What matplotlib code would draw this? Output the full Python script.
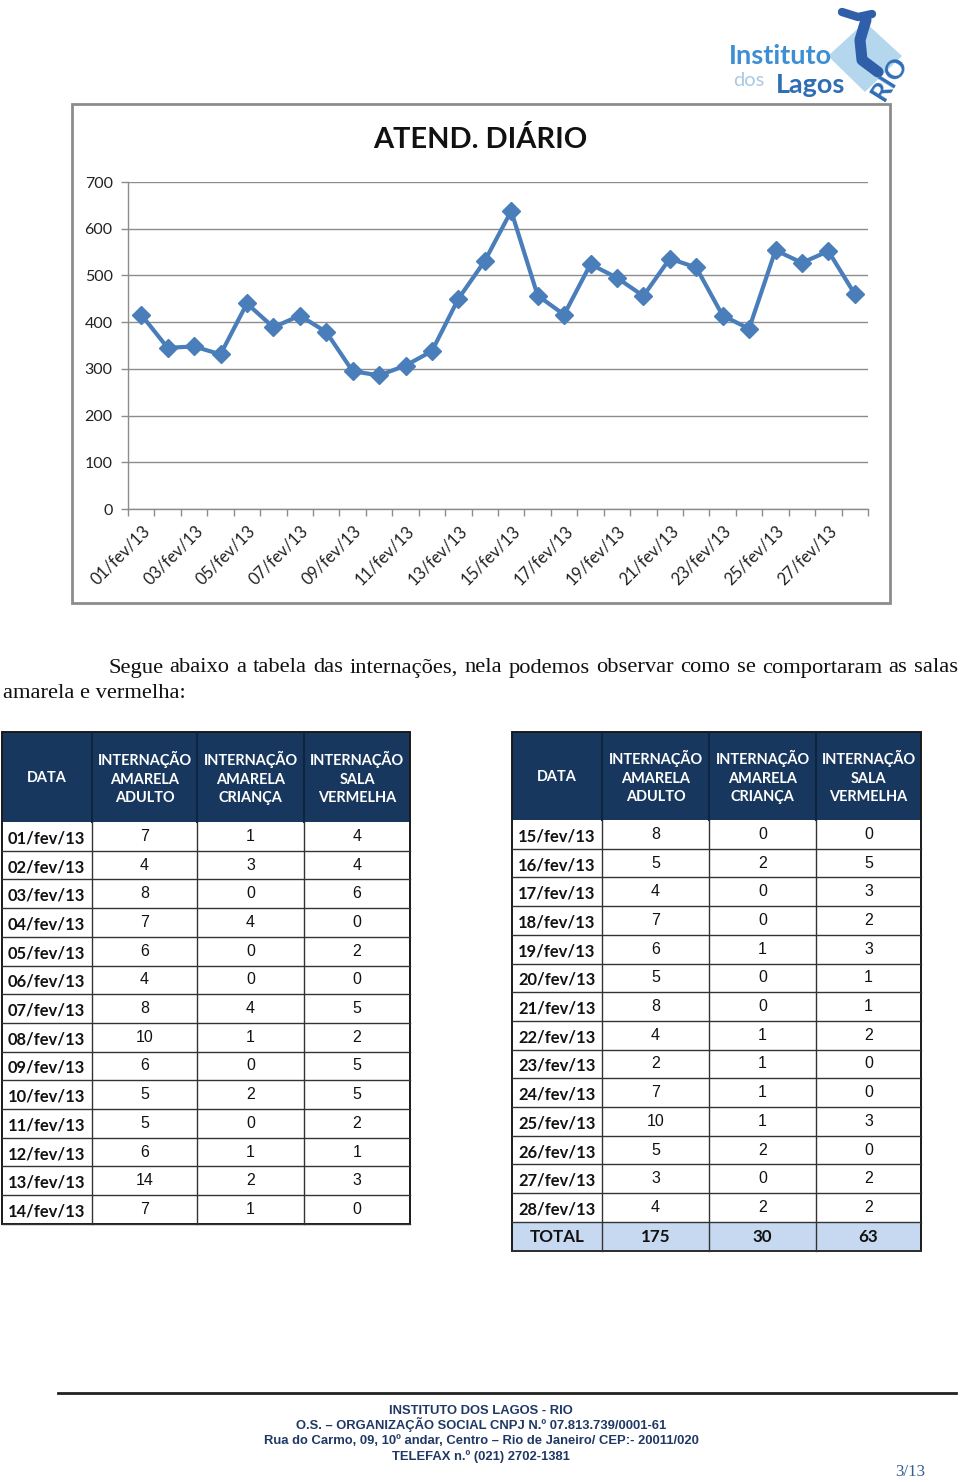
import matplotlib
matplotlib.use("Agg")
import matplotlib.pyplot as plt
from matplotlib.patches import Rectangle, Polygon
from matplotlib import font_manager
from matplotlib.ticker import FixedLocator, NullFormatter
from matplotlib.transforms import ScaledTranslation

# ---------------- data ----------------
dias = [f"{d:02d}/fev/13" for d in range(1, 29)]
atendimentos = [416, 345, 348, 331, 440, 389, 414, 379, 295, 286, 307, 338, 450, 531,
                638, 457, 416, 524, 495, 456, 536, 517, 414, 386, 554, 527, 552, 460]
y_ticks = [0, 100, 200, 300, 400, 500, 600, 700]

int_amarela_adulto = [7, 4, 8, 7, 6, 4, 8, 10, 6, 5, 5, 6, 14, 7,
                      8, 5, 4, 7, 6, 5, 8, 4, 2, 7, 10, 5, 3, 4]
int_amarela_crianca = [1, 3, 0, 4, 0, 0, 4, 1, 0, 2, 0, 1, 2, 1,
                       0, 2, 0, 0, 1, 0, 0, 1, 1, 1, 1, 2, 0, 2]
int_sala_vermelha = [4, 4, 6, 0, 2, 0, 5, 2, 5, 5, 2, 1, 3, 0,
                     0, 5, 3, 2, 3, 1, 1, 2, 0, 0, 3, 0, 2, 2]
totais = [175, 30, 63]
cabecalhos = ["DATA", "INTERNAÇÃO\nAMARELA\nADULTO", "INTERNAÇÃO\nAMARELA\nCRIANÇA",
              "INTERNAÇÃO\nSALA\nVERMELHA"]

# ---------------- fonts ----------------
def pick(*names):
    for n in names:
        try:
            font_manager.findfont(font_manager.FontProperties(family=n), fallback_to_default=False)
            return n
        except Exception:
            continue
    return "DejaVu Sans"

CAL = pick("Lato", "Open Sans")
ARIAL = pick("Liberation Sans", "DejaVu Sans")
NARROW = pick("Liberation Sans Narrow", "Liberation Sans")
TIMES = pick("Liberation Serif", "DejaVu Serif")

W, H = 960, 1482
fig = plt.figure(figsize=(W / 100, H / 100), dpi=100)
fig.patch.set_facecolor("white")
pg = fig.add_axes([0, 0, 1, 1])
pg.set_xlim(0, W)
pg.set_ylim(H, 0)
pg.axis("off")

def px(v):
    return v * 0.72

# ---------------- logo ----------------
pg.add_patch(Polygon([(865, 22), (902, 56), (865, 92), (828, 56)], closed=True,
                     facecolor="#A8D0EC", edgecolor="none", alpha=0.85, zorder=1))
pg.plot([842, 858, 872], [12, 17, 14], color="#2F5FA8", lw=6, solid_capstyle="round", zorder=2)
pg.plot([866, 860, 862, 878], [20, 40, 60, 72], color="#2F5FA8", lw=8,
        solid_capstyle="round", zorder=2)
pg.text(729, 56, "Instituto", fontsize=px(27), color="#3D8FD2", family=CAL,
        fontweight="bold", va="center", ha="left", zorder=3)
pg.text(733, 81, "dos", fontsize=px(20), color="#A9C9E2", family=CAL,
        va="center", ha="left", zorder=3)
pg.text(776, 85, "Lagos", fontsize=px(27), color="#2F6DB5", family=CAL,
        fontweight="bold", va="center", ha="left", zorder=3)
pg.text(890, 78, "RIO", fontsize=px(27), color="#2F6DB5", family=CAL,
        fontweight="bold", va="center", ha="center", rotation=58, zorder=3)

# ---------------- chart frame & title ----------------
pg.add_patch(Rectangle((72, 104), 818, 499, facecolor="white", edgecolor="#8C8C8C", lw=2))
pg.text(480, 139, "ATEND. DIÁRIO", fontsize=px(29), family=CAL, fontweight="bold",
        ha="center", va="center", color="#111111")

ax = fig.add_axes([128 / W, 1 - 509 / H, 740 / W, 327 / H])
ax.set_facecolor("none")
x = list(range(1, len(atendimentos) + 1))
ax.plot(x, atendimentos, color="#4A7EBB", lw=3, marker="D", markersize=9.5,
        markerfacecolor="#4A7EBB", markeredgecolor="#4A7EBB", zorder=3)
ax.set_xlim(0.5, len(atendimentos) + 0.5)
ax.set_ylim(0, 700)
ax.set_yticks(y_ticks)
ax.set_yticklabels([str(v) for v in y_ticks], family=CAL, fontsize=px(16), color="#222222")
ax.yaxis.grid(True, color="#8C8C8C", lw=1)
ax.set_axisbelow(True)
ax.tick_params(axis="y", length=5, width=1, color="#8C8C8C", pad=6)
ax.set_xticks(x[::2])
ax.set_xticklabels(dias[::2], rotation=45, ha="right", va="center",
                   rotation_mode="anchor", family=CAL, fontsize=px(16.5), color="#222222")
ax.tick_params(axis="x", which="major", length=0, pad=14)
shift = ScaledTranslation(6 / 100, 0, fig.dpi_scale_trans)
for lab in ax.get_xticklabels():
    lab.set_transform(lab.get_transform() + shift)
ax.xaxis.set_minor_locator(FixedLocator([i + 0.5 for i in range(0, len(atendimentos) + 1)]))
ax.xaxis.set_minor_formatter(NullFormatter())
ax.tick_params(axis="x", which="minor", length=5, width=1, color="#8C8C8C")
for s in ["top", "right"]:
    ax.spines[s].set_visible(False)
for s in ["left", "bottom"]:
    ax.spines[s].set_color("#8C8C8C")
    ax.spines[s].set_linewidth(1)

# ---------------- paragraph (justified first line) ----------------
renderer = fig.canvas.get_renderer()
line1 = "Segue abaixo a tabela das internações, nela podemos observar como se comportaram as salas".split()
fs_par = px(22.5)
texts = [pg.text(0, 668, w, fontsize=fs_par, family=TIMES, va="center", ha="left",
                 color="#111111") for w in line1]
widths = [t.get_window_extent(renderer).width for t in texts]
x0, x1 = 108, 958
gap = (x1 - x0 - sum(widths)) / (len(line1) - 1)
cx = x0
for t, wd in zip(texts, widths):
    t.set_x(cx)
    cx += wd + gap
pg.text(3, 693, "amarela e vermelha:", fontsize=fs_par, family=TIMES, va="center",
        ha="left", color="#111111")

# ---------------- tables ----------------
HEAD = "#17375E"
GRID = "#333333"

def draw_table(cols, top, hbot, rows, row_h, total=None):
    pg.add_patch(Rectangle((cols[0], top), cols[-1] - cols[0], hbot - top,
                           facecolor=HEAD, edgecolor="none"))
    for j in range(4):
        cxm = (cols[j] + cols[j + 1]) / 2
        pg.text(cxm, (top + hbot) / 2 + 1, cabecalhos[j], fontsize=px(14.5), family=CAL,
                fontweight="bold", color="white", ha="center", va="center",
                linespacing=1.42)
    for c in cols[1:-1]:
        pg.plot([c, c], [top, hbot], color="#0E2440", lw=1.5)
    y = hbot
    for (d, a, c_, v) in rows:
        pg.text(cols[0] + 6, y + row_h / 2 + 2, d, fontsize=px(16.5), family=CAL,
                fontweight="bold", color="#111111", ha="left", va="center")
        for j, val in enumerate([a, c_, v]):
            pg.text((cols[j + 1] + cols[j + 2]) / 2, y + row_h / 2, str(val),
                    fontsize=px(16), family=ARIAL, color="#111111", ha="center", va="center")
        y += row_h
        pg.plot([cols[0], cols[-1]], [y, y], color=GRID, lw=1)
    bottom = y
    if total is not None:
        pg.add_patch(Rectangle((cols[0], y), cols[-1] - cols[0], row_h,
                               facecolor="#C6D9F1", edgecolor="none"))
        pg.text((cols[0] + cols[1]) / 2, y + row_h / 2 + 1, "TOTAL", fontsize=px(17),
                family=CAL, fontweight="bold", color="#111111", ha="center", va="center")
        for j, val in enumerate(total):
            pg.text((cols[j + 1] + cols[j + 2]) / 2, y + row_h / 2 + 1, str(val),
                    fontsize=px(17), family=CAL, fontweight="bold", color="#111111",
                    ha="center", va="center")
        bottom = y + row_h
        pg.plot([cols[0], cols[-1]], [bottom, bottom], color=GRID, lw=1.2)
    for c in cols[1:-1]:
        pg.plot([c, c], [hbot, bottom], color=GRID, lw=1)
    pg.add_patch(Rectangle((cols[0], top), cols[-1] - cols[0], bottom - top,
                           facecolor="none", edgecolor="#1A1A1A", lw=1.4))

rows_l = list(zip(dias[:14], int_amarela_adulto[:14], int_amarela_crianca[:14],
                  int_sala_vermelha[:14]))
rows_r = list(zip(dias[14:], int_amarela_adulto[14:], int_amarela_crianca[14:],
                  int_sala_vermelha[14:]))
draw_table([2, 92, 197, 304, 410], 732, 822, rows_l, 28.7)
draw_table([512, 602, 709, 816, 921], 732, 820, rows_r, 28.7, total=totais)

# ---------------- footer ----------------
pg.plot([58, 956], [1393, 1393], color="#222222", lw=2)
FOOT = "#1F3864"
footer = ["INSTITUTO DOS LAGOS - RIO",
          "O.S. – ORGANIZAÇÃO SOCIAL CNPJ N.º 07.813.739/0001-61",
          "Rua do Carmo, 09, 10º andar, Centro – Rio de Janeiro/ CEP:- 20011/020",
          "TELEFAX n.º (021) 2702-1381"]
for i, line in enumerate(footer):
    pg.text(481, 1414 + i * 15.2, line, fontsize=px(13), family=NARROW,
            fontweight="bold", color=FOOT, ha="center", va="baseline")
pg.text(910, 1472, "3/13", fontsize=px(17), family=TIMES, color="#365F91",
        ha="center", va="center")

fig.savefig("out.png", dpi=100)
